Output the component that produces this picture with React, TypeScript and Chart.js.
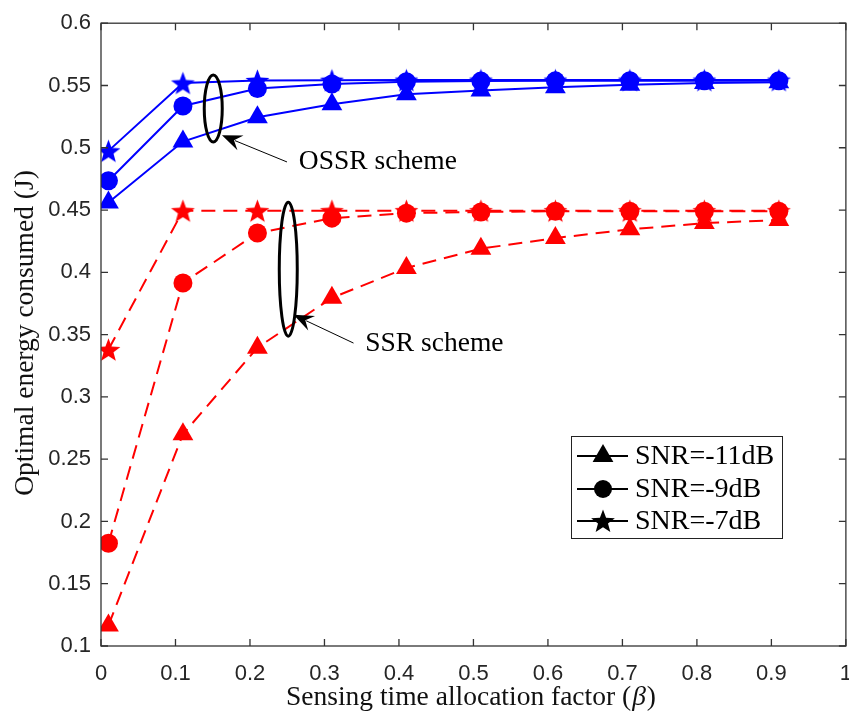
import React, { useEffect, useRef } from 'react';
import { Chart, registerables } from 'chart.js';
Chart.register(...registerables);

const betaValues = [0.01, 0.11, 0.21, 0.31, 0.41, 0.51, 0.61, 0.71, 0.81, 0.91];
const ossrSnrM11 = [0.456, 0.505, 0.5245, 0.535, 0.543, 0.546, 0.5485, 0.5505, 0.552, 0.5525];
const ossrSnrM9 = [0.4735, 0.5335, 0.5475, 0.5512, 0.553, 0.5535, 0.5537, 0.5538, 0.5538, 0.5538];
const ossrSnrM7 = [0.4975, 0.552, 0.554, 0.5542, 0.5543, 0.5543, 0.5543, 0.5543, 0.5543, 0.5543];
const ssrSnrM11 = [0.1165, 0.27, 0.3395, 0.3795, 0.4035, 0.419, 0.4275, 0.4345, 0.4395, 0.442];
const ssrSnrM9 = [0.1825, 0.3915, 0.4315, 0.4435, 0.4475, 0.4485, 0.449, 0.449, 0.449, 0.449];
const ssrSnrM7 = [0.338, 0.4495, 0.4495, 0.4495, 0.4495, 0.4495, 0.4495, 0.4495, 0.4495, 0.4495];

const xTicks = [0, 0.1, 0.2, 0.3, 0.4, 0.5, 0.6, 0.7, 0.8, 0.9, 1];
const yTicks = [0.1, 0.15, 0.2, 0.25, 0.3, 0.35, 0.4, 0.45, 0.5, 0.55, 0.6];

const legendLabels = ['SNR=-11dB', 'SNR=-9dB', 'SNR=-7dB'];
const legendMarkers = ['triangle', 'circle', 'pentagram'];

const xTitle = 'Sensing time allocation factor (';
const xTitleSymbol = 'β';
const yTitle = 'Optimal energy consumed (J)';

// annotation groups: ellipse centre in data units, arrow tip/tail in data units, text
const annotations = [
  { label: 'OSSR scheme', cx: 0.1507, cy: 0.5315, tipX: 0.1624, tipY: 0.51, tailX: 0.2497, tailY: 0.4886, textX: 0.2655, textY: 0.4886 },
  { label: 'SSR scheme', cx: 0.2514, cy: 0.4025, tipX: 0.2585, tipY: 0.3659, tailX: 0.339, tailY: 0.3432, textX: 0.3548, textY: 0.3430 },
];

const SERIF = '"Liberation Serif", "Times New Roman", serif';
const SANS = '"Liberation Sans", Arial, sans-serif';

function makeStar(color: string, outer: number): HTMLCanvasElement {
  const size = Math.ceil(outer * 2 + 4);
  const c = document.createElement('canvas');
  c.width = size;
  c.height = size;
  const ctx = c.getContext('2d')!;
  drawStarPath(ctx, size / 2, size / 2 + outer * 0.1, outer);
  ctx.fillStyle = color;
  ctx.fill();
  return c;
}

function drawStarPath(ctx: CanvasRenderingContext2D, x: number, y: number, outer: number) {
  const inner = outer * 0.42;
  ctx.beginPath();
  for (let i = 0; i < 10; i++) {
    const r = i % 2 === 0 ? outer : inner;
    const a = -Math.PI / 2 + (i * Math.PI) / 5;
    const px = x + r * Math.cos(a);
    const py = y + r * Math.sin(a);
    if (i === 0) ctx.moveTo(px, py);
    else ctx.lineTo(px, py);
  }
  ctx.closePath();
}

const decorPlugin = {
  id: 'decor',
  afterDatasetsDraw(chart: any) {
    const { ctx } = chart;
    const xs = chart.scales.x;
    const ys = chart.scales.y;
    const left = xs.getPixelForValue(xTicks[0]);
    const right = xs.getPixelForValue(xTicks[xTicks.length - 1]);
    const top = ys.getPixelForValue(yTicks[yTicks.length - 1]);
    const bottom = ys.getPixelForValue(yTicks[0]);
    ctx.save();
    // axes box
    ctx.strokeStyle = '#333333';
    ctx.lineWidth = 1.3;
    ctx.strokeRect(left, top, right - left, bottom - top);
    // inward ticks
    const tl = 7;
    ctx.beginPath();
    xTicks.forEach((v) => {
      const px = xs.getPixelForValue(v);
      ctx.moveTo(px, bottom);
      ctx.lineTo(px, bottom - tl);
      ctx.moveTo(px, top);
      ctx.lineTo(px, top + tl);
    });
    yTicks.forEach((v) => {
      const py = ys.getPixelForValue(v);
      ctx.moveTo(left, py);
      ctx.lineTo(left + tl, py);
      ctx.moveTo(right, py);
      ctx.lineTo(right - tl, py);
    });
    ctx.stroke();

    // annotations
    annotations.forEach((a, i) => {
      const cx = xs.getPixelForValue(a.cx);
      const cy = ys.getPixelForValue(a.cy);
      const rx = 9;
      const ry = i === 0 ? 33.5 : 67;
      ctx.beginPath();
      ctx.ellipse(cx, cy, rx, ry, 0, 0, Math.PI * 2);
      ctx.strokeStyle = '#000';
      ctx.lineWidth = 3;
      ctx.stroke();

      const tx = xs.getPixelForValue(a.tipX);
      const ty = ys.getPixelForValue(a.tipY);
      const sx = xs.getPixelForValue(a.tailX);
      const sy = ys.getPixelForValue(a.tailY);
      const ang = Math.atan2(ty - sy, tx - sx);
      const hl = 20;
      const hw = 8;
      ctx.beginPath();
      ctx.moveTo(sx, sy);
      ctx.lineTo(tx - Math.cos(ang) * hl * 0.7, ty - Math.sin(ang) * hl * 0.7);
      ctx.lineWidth = 1;
      ctx.stroke();
      const bx = tx - Math.cos(ang) * hl;
      const by = ty - Math.sin(ang) * hl;
      const nx = -Math.sin(ang);
      const ny = Math.cos(ang);
      ctx.beginPath();
      ctx.moveTo(tx, ty);
      ctx.lineTo(bx + nx * hw, by + ny * hw);
      ctx.lineTo(tx - Math.cos(ang) * hl * 0.65, ty - Math.sin(ang) * hl * 0.65);
      ctx.lineTo(bx - nx * hw, by - ny * hw);
      ctx.closePath();
      ctx.fillStyle = '#000';
      ctx.fill();

      ctx.font = `27.5px ${SERIF}`;
      ctx.textAlign = 'left';
      ctx.textBaseline = 'middle';
      ctx.fillText(a.label, xs.getPixelForValue(a.textX), ys.getPixelForValue(a.textY));
    });

    // legend
    const lx = 571, ly = 436, lw = 211, lh = 102;
    ctx.fillStyle = '#fff';
    ctx.fillRect(lx, ly, lw, lh);
    ctx.strokeStyle = '#222';
    ctx.lineWidth = 1;
    ctx.strokeRect(lx + 0.5, ly + 0.5, lw, lh);
    const rowY = [456, 489, 521];
    legendLabels.forEach((lab, i) => {
      const y = rowY[i];
      ctx.beginPath();
      ctx.moveTo(577, y);
      ctx.lineTo(628, y);
      ctx.strokeStyle = '#000';
      ctx.lineWidth = 2;
      ctx.stroke();
      ctx.fillStyle = '#000';
      const mx = 603;
      const m = legendMarkers[i];
      if (m === 'triangle') {
        const r = 12;
        ctx.beginPath();
        ctx.moveTo(mx, y - r);
        ctx.lineTo(mx + r * 0.866, y + r * 0.5);
        ctx.lineTo(mx - r * 0.866, y + r * 0.5);
        ctx.closePath();
        ctx.fill();
      } else if (m === 'circle') {
        ctx.beginPath();
        ctx.arc(mx, y, 9, 0, Math.PI * 2);
        ctx.fill();
      } else {
        drawStarPath(ctx, mx, y + 1, 12.5);
        ctx.fill();
      }
      ctx.font = `28px ${SERIF}`;
      ctx.textAlign = 'left';
      ctx.textBaseline = 'middle';
      ctx.fillText(lab, 635, y + 1);
    });

    // axis titles
    ctx.fillStyle = '#111';
    ctx.textBaseline = 'middle';
    const fs = 27.5;
    ctx.font = `${fs}px ${SERIF}`;
    const w1 = ctx.measureText(xTitle).width;
    ctx.font = `italic ${fs}px ${SERIF}`;
    const w2 = ctx.measureText(xTitleSymbol).width;
    ctx.font = `${fs}px ${SERIF}`;
    const w3 = ctx.measureText(')').width;
    const total = w1 + w2 + w3 + 2;
    const x0 = 471 - total / 2;
    const yT = 698;
    ctx.textAlign = 'left';
    ctx.fillText(xTitle, x0, yT);
    ctx.font = `italic ${fs}px ${SERIF}`;
    ctx.fillText(xTitleSymbol, x0 + w1 + 1, yT);
    ctx.font = `${fs}px ${SERIF}`;
    ctx.fillText(')', x0 + w1 + w2 + 2, yT);

    ctx.save();
    ctx.translate(26, 333);
    ctx.rotate(-Math.PI / 2);
    ctx.textAlign = 'center';
    ctx.font = `${fs}px ${SERIF}`;
    ctx.fillText(yTitle, 0, 0);
    ctx.restore();

    ctx.restore();
  },
};

const CANVAS_W = 867;

export default function App() {
  const ref = useRef<HTMLCanvasElement | null>(null);
  useEffect(() => {
    document.body.style.margin = '0';
    const canvas = ref.current!;
    const blueStar = makeStar('#0000ff', 12.5);
    const redStar = makeStar('#ff0000', 12.5);
    const toPts = (vals: number[]) => betaValues.map((b, i) => ({ x: b, y: vals[i] }));
    const blue = '#0000ff';
    const red = '#ff0000';
    const base = { borderWidth: 2, pointBorderWidth: 0, fill: false, tension: 0 } as any;
    const chart = new Chart(canvas, {
      type: 'line',
      data: {
        datasets: [
          { ...base, label: 'SSR -11', data: toPts(ssrSnrM11), borderColor: red, backgroundColor: red, borderDash: [14, 8], pointStyle: 'triangle', pointRadius: 12 },
          { ...base, label: 'SSR -9', data: toPts(ssrSnrM9), borderColor: red, backgroundColor: red, borderDash: [14, 8], pointStyle: 'circle', pointRadius: 9.5 },
          { ...base, label: 'SSR -7', data: toPts(ssrSnrM7), borderColor: red, backgroundColor: red, borderDash: [14, 8], pointStyle: redStar, pointRadius: 12 },
          { ...base, label: 'OSSR -11', data: toPts(ossrSnrM11), borderColor: blue, backgroundColor: blue, pointStyle: 'triangle', pointRadius: 12 },
          { ...base, label: 'OSSR -9', data: toPts(ossrSnrM9), borderColor: blue, backgroundColor: blue, pointStyle: 'circle', pointRadius: 9.5 },
          { ...base, label: 'OSSR -7', data: toPts(ossrSnrM7), borderColor: blue, backgroundColor: blue, pointStyle: blueStar, pointRadius: 12 },
        ],
      },
      options: {
        animation: false,
        responsive: false,
        events: [],
        layout: { padding: { left: 0, right: 0, top: 18.5, bottom: 0 } },
        plugins: { legend: { display: false }, tooltip: { enabled: false } },
        scales: {
          x: {
            type: 'linear',
            min: 0,
            max: 1,
            afterBuildTicks: (s: any) => { s.ticks = xTicks.map((v) => ({ value: v })); },
            afterFit: (s: any) => { s.height = 70; },
            ticks: {
              autoSkip: false,
              maxRotation: 0,
              padding: 15,
              color: '#262626',
              font: { family: SANS, size: 22 },
              callback: (v: any) => String(Number(Number(v).toFixed(2))),
            },
            grid: { display: false, drawTicks: false },
            border: { display: false },
          },
          y: {
            type: 'linear',
            min: 0.1,
            max: 0.6,
            afterBuildTicks: (s: any) => { s.ticks = yTicks.map((v) => ({ value: v })); },
            afterFit: (s: any) => { s.width = 101; },
            ticks: {
              autoSkip: false,
              padding: 10,
              color: '#262626',
              font: { family: SANS, size: 22 },
              callback: (v: any) => String(Number(Number(v).toFixed(2))),
            },
            grid: { display: false, drawTicks: false },
            border: { display: false },
          },
        },
      },
      plugins: [decorPlugin],
    });
    return () => chart.destroy();
  }, []);
  return (
    <div style={{ width: 849, height: 716, overflow: 'hidden', position: 'relative' }}>
      <canvas ref={ref} width={CANVAS_W} height={716} style={{ display: 'block' }} />
    </div>
  );
}
